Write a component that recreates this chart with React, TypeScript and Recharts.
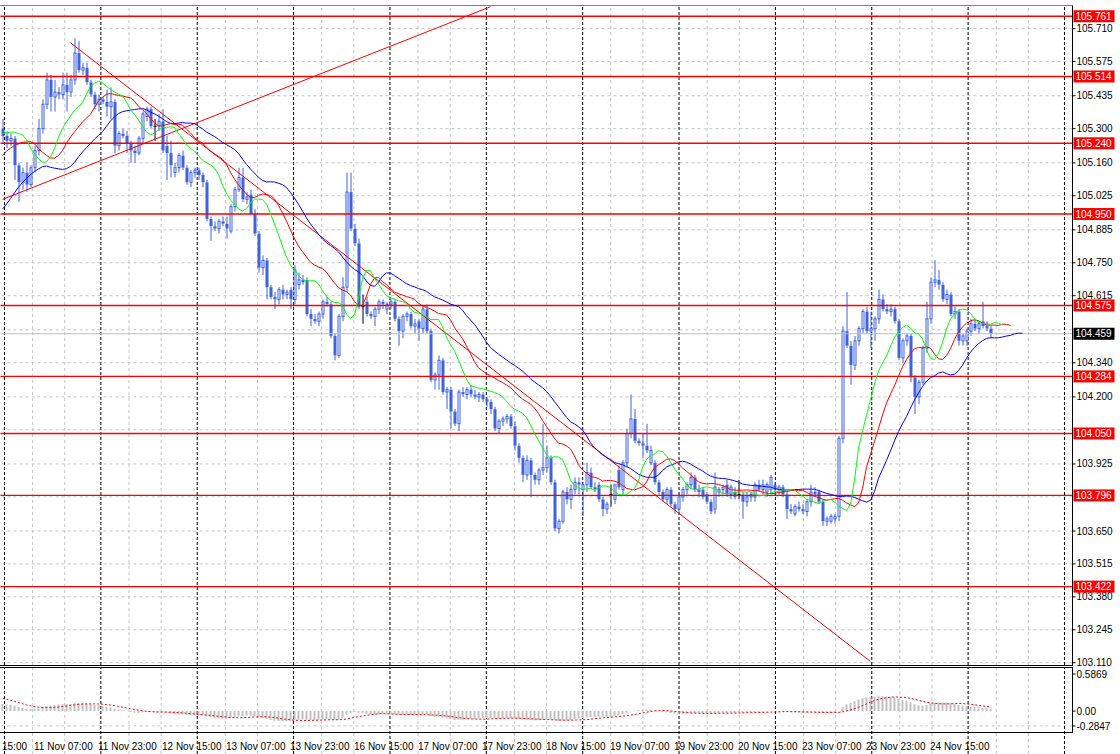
import React from 'react'
import { ComposedChart, Bar, Line, XAxis, YAxis, ReferenceLine } from 'recharts'

// hourly candles, 10 Nov 23:00 .. 25 Nov 06:00  [open, high, low, close]
const ohlc: [number, number, number, number][] = [
  [105.30, 105.34, 105.24, 105.27], [105.27, 105.29, 105.22, 105.25], [105.25, 105.28, 105.23, 105.26], [105.26, 105.27, 105.09, 105.15],
  [105.15, 105.16, 105.00, 105.08], [105.08, 105.14, 105.05, 105.12], [105.12, 105.16, 105.04, 105.07], [105.07, 105.15, 105.06, 105.14],
  [105.14, 105.23, 105.12, 105.21], [105.21, 105.34, 105.19, 105.30], [105.30, 105.42, 105.28, 105.40], [105.40, 105.53, 105.38, 105.50],
  [105.50, 105.52, 105.37, 105.43], [105.43, 105.50, 105.37, 105.45], [105.45, 105.47, 105.42, 105.44], [105.44, 105.53, 105.42, 105.48],
  [105.48, 105.53, 105.37, 105.45], [105.45, 105.52, 105.43, 105.50], [105.50, 105.67, 105.48, 105.61], [105.61, 105.66, 105.53, 105.54],
  [105.54, 105.57, 105.52, 105.55], [105.55, 105.57, 105.48, 105.49], [105.49, 105.50, 105.43, 105.44], [105.44, 105.45, 105.38, 105.40],
  [105.40, 105.44, 105.37, 105.42], [105.42, 105.43, 105.40, 105.41], [105.41, 105.46, 105.35, 105.39], [105.39, 105.47, 105.34, 105.41],
  [105.41, 105.42, 105.20, 105.23], [105.23, 105.29, 105.21, 105.28], [105.28, 105.30, 105.26, 105.27], [105.27, 105.29, 105.20, 105.24],
  [105.24, 105.25, 105.16, 105.21], [105.21, 105.23, 105.16, 105.20], [105.20, 105.27, 105.19, 105.26], [105.26, 105.37, 105.24, 105.36],
  [105.35, 105.39, 105.33, 105.38], [105.38, 105.39, 105.30, 105.31], [105.31, 105.34, 105.25, 105.31], [105.31, 105.36, 105.29, 105.33],
  [105.33, 105.38, 105.20, 105.21], [105.23, 105.27, 105.09, 105.20], [105.20, 105.25, 105.10, 105.15], [105.12, 105.16, 105.10, 105.14],
  [105.14, 105.20, 105.12, 105.19], [105.19, 105.21, 105.13, 105.14], [105.14, 105.15, 105.07, 105.08], [105.08, 105.13, 105.06, 105.12],
  [105.12, 105.14, 105.10, 105.13], [105.13, 105.14, 105.09, 105.11], [105.11, 105.12, 105.06, 105.08], [105.08, 105.09, 104.92, 104.93],
  [104.93, 104.94, 104.84, 104.90], [104.90, 104.92, 104.88, 104.89], [104.89, 104.93, 104.87, 104.92], [104.92, 104.94, 104.90, 104.91],
  [104.91, 104.94, 104.85, 104.89], [104.88, 104.99, 104.87, 104.98], [104.98, 105.06, 104.96, 105.05], [105.05, 105.14, 105.04, 105.10],
  [105.10, 105.14, 105.00, 105.01], [105.01, 105.04, 104.99, 105.02], [105.03, 105.05, 104.95, 104.95], [104.95, 104.97, 104.86, 104.87],
  [104.87, 104.88, 104.71, 104.73], [104.73, 104.78, 104.70, 104.76], [104.76, 104.77, 104.60, 104.65], [104.65, 104.66, 104.60, 104.61],
  [104.61, 104.63, 104.56, 104.60], [104.60, 104.65, 104.58, 104.64], [104.64, 104.66, 104.60, 104.62], [104.62, 104.64, 104.60, 104.63],
  [104.64, 104.65, 104.56, 104.60], [104.60, 104.74, 104.58, 104.72], [104.66, 104.71, 104.64, 104.68], [104.68, 104.70, 104.66, 104.67],
  [104.68, 104.69, 104.53, 104.54], [104.54, 104.56, 104.49, 104.52], [104.52, 104.54, 104.50, 104.51], [104.51, 104.55, 104.49, 104.54],
  [104.54, 104.60, 104.52, 104.59], [104.59, 104.61, 104.57, 104.58], [104.58, 104.59, 104.44, 104.45], [104.45, 104.46, 104.35, 104.37],
  [104.37, 104.54, 104.36, 104.53], [104.53, 104.69, 104.51, 104.65], [104.65, 105.12, 104.63, 105.04], [105.04, 105.12, 104.88, 104.89],
  [104.89, 104.91, 104.82, 104.83], [104.83, 104.85, 104.56, 104.57], [104.57, 104.62, 104.50, 104.57], [104.59, 104.61, 104.53, 104.54],
  [104.54, 104.55, 104.52, 104.53], [104.53, 104.57, 104.49, 104.56], [104.56, 104.60, 104.54, 104.59], [104.59, 104.60, 104.56, 104.58],
  [104.56, 104.59, 104.54, 104.58], [104.58, 104.60, 104.56, 104.59], [104.59, 104.60, 104.51, 104.52], [104.52, 104.53, 104.41, 104.47],
  [104.47, 104.54, 104.44, 104.53], [104.53, 104.55, 104.51, 104.54], [104.54, 104.55, 104.48, 104.49], [104.49, 104.52, 104.46, 104.50],
  [104.51, 104.52, 104.43, 104.48], [104.48, 104.57, 104.46, 104.56], [104.56, 104.58, 104.46, 104.47], [104.47, 104.48, 104.26, 104.27],
  [104.27, 104.30, 104.23, 104.29], [104.29, 104.37, 104.23, 104.35], [104.35, 104.36, 104.21, 104.22], [104.22, 104.24, 104.15, 104.23],
  [104.23, 104.24, 104.07, 104.14], [104.14, 104.15, 104.08, 104.09], [104.09, 104.23, 104.06, 104.22], [104.22, 104.24, 104.20, 104.21],
  [104.21, 104.24, 104.19, 104.23], [104.23, 104.25, 104.20, 104.21], [104.21, 104.23, 104.19, 104.20], [104.20, 104.22, 104.18, 104.21],
  [104.21, 104.22, 104.18, 104.19], [104.19, 104.20, 104.16, 104.18], [104.18, 104.19, 104.13, 104.15], [104.15, 104.16, 104.06, 104.07],
  [104.07, 104.11, 104.05, 104.10], [104.10, 104.12, 104.08, 104.11], [104.11, 104.13, 104.09, 104.12], [104.12, 104.13, 104.07, 104.08],
  [104.08, 104.10, 103.98, 104.00], [104.00, 104.01, 103.93, 103.95], [103.95, 103.96, 103.85, 103.88], [103.88, 103.96, 103.86, 103.94],
  [103.94, 103.95, 103.79, 103.88], [103.88, 103.89, 103.84, 103.86], [103.86, 103.91, 103.84, 103.90], [103.90, 104.09, 103.88, 103.91],
  [103.91, 104.00, 103.89, 103.95], [103.95, 103.96, 103.84, 103.85], [103.85, 103.86, 103.65, 103.66], [103.66, 103.70, 103.64, 103.69],
  [103.69, 103.82, 103.68, 103.81], [103.81, 103.83, 103.76, 103.78], [103.78, 103.84, 103.74, 103.82], [103.82, 103.87, 103.80, 103.85],
  [103.85, 103.87, 103.80, 103.84], [103.82, 103.85, 103.71, 103.84], [103.84, 103.93, 103.81, 103.89], [103.89, 103.91, 103.82, 103.83],
  [103.83, 103.85, 103.81, 103.82], [103.84, 103.85, 103.77, 103.78], [103.78, 103.79, 103.71, 103.74], [103.74, 103.77, 103.72, 103.76],
  [103.80, 103.84, 103.75, 103.80], [103.78, 103.84, 103.76, 103.84], [103.90, 103.92, 103.82, 103.83], [103.82, 103.94, 103.80, 103.93],
  [103.93, 104.07, 103.91, 104.05], [104.05, 104.21, 104.03, 104.11], [104.11, 104.15, 104.01, 104.02], [104.02, 104.03, 104.00, 104.01],
  [104.01, 104.05, 103.95, 104.00], [104.00, 104.09, 103.97, 103.98], [103.93, 104.00, 103.92, 103.98], [103.93, 103.94, 103.84, 103.85],
  [103.85, 103.86, 103.80, 103.81], [103.81, 103.82, 103.77, 103.78], [103.78, 103.83, 103.76, 103.82], [103.82, 103.83, 103.75, 103.76],
  [103.76, 103.77, 103.72, 103.74], [103.74, 103.81, 103.72, 103.79], [103.79, 103.83, 103.77, 103.82], [103.82, 103.85, 103.80, 103.84],
  [103.84, 103.89, 103.82, 103.87], [103.87, 103.88, 103.81, 103.82], [103.82, 103.84, 103.79, 103.81], [103.82, 103.83, 103.78, 103.79],
  [103.80, 103.81, 103.76, 103.77], [103.77, 103.78, 103.72, 103.73], [103.74, 103.89, 103.72, 103.83], [103.81, 103.83, 103.79, 103.82],
  [103.82, 103.84, 103.80, 103.83], [103.84, 103.86, 103.79, 103.80], [103.80, 103.84, 103.78, 103.83], [103.81, 103.83, 103.78, 103.79],
  [103.80, 103.86, 103.78, 103.80], [103.80, 103.81, 103.70, 103.77], [103.77, 103.81, 103.75, 103.79], [103.79, 103.81, 103.77, 103.80],
  [103.79, 103.85, 103.77, 103.84], [103.84, 103.86, 103.81, 103.82], [103.82, 103.86, 103.80, 103.84], [103.81, 103.85, 103.79, 103.84],
  [103.82, 103.88, 103.80, 103.87], [103.84, 103.85, 103.80, 103.82], [103.82, 103.84, 103.80, 103.83], [103.83, 103.84, 103.79, 103.80],
  [103.80, 103.81, 103.70, 103.74], [103.74, 103.76, 103.72, 103.73], [103.72, 103.76, 103.71, 103.75], [103.75, 103.77, 103.73, 103.74],
  [103.74, 103.76, 103.72, 103.73], [103.73, 103.78, 103.71, 103.77], [103.77, 103.84, 103.75, 103.81], [103.81, 103.83, 103.79, 103.80],
  [103.81, 103.82, 103.76, 103.77], [103.77, 103.78, 103.67, 103.69], [103.69, 103.71, 103.67, 103.70], [103.69, 103.72, 103.68, 103.71],
  [103.70, 103.72, 103.68, 103.71], [103.71, 104.04, 103.69, 104.03], [104.03, 104.49, 104.01, 104.47], [104.47, 104.63, 104.40, 104.41],
  [104.41, 104.43, 104.25, 104.33], [104.33, 104.45, 104.31, 104.43], [104.43, 104.49, 104.41, 104.48], [104.48, 104.56, 104.46, 104.55],
  [104.55, 104.57, 104.46, 104.47], [104.47, 104.55, 104.40, 104.48], [104.48, 104.53, 104.43, 104.52], [104.52, 104.64, 104.50, 104.60],
  [104.60, 104.62, 104.55, 104.56], [104.56, 104.58, 104.54, 104.55], [104.55, 104.58, 104.53, 104.56], [104.56, 104.57, 104.50, 104.51],
  [104.51, 104.52, 104.35, 104.36], [104.36, 104.44, 104.34, 104.43], [104.43, 104.46, 104.41, 104.45], [104.45, 104.46, 104.26, 104.28],
  [104.28, 104.29, 104.13, 104.20], [104.20, 104.27, 104.17, 104.26], [104.26, 104.41, 104.25, 104.40], [104.40, 104.59, 104.38, 104.52],
  [104.52, 104.69, 104.50, 104.67], [104.67, 104.76, 104.65, 104.68], [104.68, 104.72, 104.64, 104.66], [104.66, 104.67, 104.59, 104.60],
  [104.60, 104.64, 104.58, 104.62], [104.62, 104.63, 104.53, 104.54], [104.54, 104.57, 104.52, 104.55], [104.55, 104.56, 104.41, 104.43],
  [104.43, 104.46, 104.41, 104.45], [104.43, 104.48, 104.41, 104.47], [104.47, 104.52, 104.45, 104.50], [104.50, 104.52, 104.47, 104.48],
  [104.48, 104.51, 104.46, 104.50], [104.51, 104.59, 104.48, 104.49], [104.49, 104.51, 104.47, 104.48], [104.48, 104.49, 104.44, 104.459],
]

// median prices of the 8 hours before the first visible bar (estimated)
const priorMedians = [105.18, 105.24, 105.29, 105.32, 105.33, 105.31, 105.3, 105.29]
// alligator start values as seen at the left edge
const jawSeed = 104.97
const teethSeed = 105.19
const lipsSeed = 105.28
// MACD(12,26,9) state at the left edge
const ema12Seed = 105.22
const ema26Seed = 105.12
const macdPrior = [0.22, 0.22, 0.21, 0.2, 0.19, 0.17, 0.15, 0.13]

const priceTicks = [
  105.71, 105.575, 105.435, 105.3, 105.16, 105.025, 104.885, 104.75, 104.615, 104.475,
  104.34, 104.2, 104.065, 103.925, 103.79, 103.65, 103.515, 103.38, 103.245, 103.11,
]
const levels = [105.761, 105.514, 105.24, 104.95, 104.575, 104.284, 104.05, 103.796, 103.422]
const bidPrice = 104.459
const macdTicks = [0.5869, 0, -0.2847]
const dayStarts = [1, 25, 49, 73, 97, 121, 145, 169, 193, 217, 241, 265]
const timeLabels = [
  { k: -8, label: '10 Nov 15:00' },
  { k: 8, label: '11 Nov 07:00' },
  { k: 24, label: '11 Nov 23:00' },
  { k: 40, label: '12 Nov 15:00' },
  { k: 56, label: '13 Nov 07:00' },
  { k: 72, label: '13 Nov 23:00' },
  { k: 88, label: '16 Nov 15:00' },
  { k: 104, label: '17 Nov 07:00' },
  { k: 120, label: '17 Nov 23:00' },
  { k: 136, label: '18 Nov 15:00' },
  { k: 152, label: '19 Nov 07:00' },
  { k: 168, label: '19 Nov 23:00' },
  { k: 184, label: '20 Nov 15:00' },
  { k: 200, label: '23 Nov 07:00' },
  { k: 216, label: '23 Nov 23:00' },
  { k: 232, label: '24 Nov 15:00' },
]
const trendLines = [
  { from: [0, 105.01], to: [122, 105.8] },
  { from: [17, 105.652], to: [217, 103.115] },
]

const SLOTS = 268
const PRICE_MIN = 103.1006
const PRICE_MAX = 105.803
const BLUE = '#3f63dd'
const GRID = '#c4c4c4'
const FONT = '"Liberation Sans", Arial, sans-serif'

function smma(values: number[], period: number, start: number, seed: number) {
  const out: (number | null)[] = values.map(() => null)
  out[start] = seed
  for (let j = start + 1; j < values.length; j++) {
    out[j] = ((out[j - 1] as number) * (period - 1) + values[j]) / period
  }
  return out
}

const medians = [...priorMedians, ...ohlc.map(([, h, l]) => (h + l) / 2)]
const jawRaw = smma(medians, 13, 0, jawSeed)
const teethRaw = smma(medians, 8, 3, teethSeed)
const lipsRaw = smma(medians, 5, 5, lipsSeed)

const macdMain: number[] = []
let e12 = ema12Seed
let e26 = ema26Seed
ohlc.forEach(([, , , c]) => {
  e12 += (2 / 13) * (c - e12)
  e26 += (2 / 27) * (c - e26)
  macdMain.push(e12 - e26)
})
const macdAll = [...macdPrior, ...macdMain]
const macdSignal = macdMain.map((_, i) => macdAll.slice(i, i + 9).reduce((a, b) => a + b, 0) / 9)

const rows = Array.from({ length: SLOTS }, (_, k) => {
  const b = ohlc[k]
  return {
    k,
    range: b ? [b[2], b[1]] : null,
    o: b ? b[0] : null,
    h: b ? b[1] : null,
    l: b ? b[2] : null,
    c: b ? b[3] : null,
    jaw: jawRaw[k] ?? null,
    teeth: teethRaw[k + 3] ?? null,
    lips: lipsRaw[k + 5] ?? null,
    macd: macdMain[k] ?? null,
    signal: macdSignal[k] ?? null,
  }
})

const gridKeys = rows.map((r) => r.k).filter((k) => k % 8 === 0 && !dayStarts.some((d) => Math.abs(d - k) <= 1))

function Candle(props: any) {
  const { x, y, width, height, payload } = props
  if (!payload || payload.o == null) return null
  const { o, h, l, c } = payload
  const top = Math.min(y, y + height)
  const bottom = Math.max(y, y + height)
  const toY = (v: number) => top + ((h - v) / (h - l)) * (bottom - top)
  const cx = x + width / 2
  const yo = toY(o)
  const yc = toY(c)
  if (o === c) {
    return (
      <g>
        <line x1={cx} x2={cx} y1={top} y2={bottom} stroke="#000" />
        <line x1={cx - 1.5} x2={cx + 1.5} y1={yo} y2={yo} stroke="#000" />
      </g>
    )
  }
  const bTop = Math.min(yo, yc)
  const bBot = Math.max(yo, yc, bTop + 1)
  return (
    <g>
      <line x1={cx} x2={cx} y1={top} y2={bTop} stroke={BLUE} />
      <line x1={cx} x2={cx} y1={bBot} y2={bottom} stroke={BLUE} />
      {c > o ? (
        <rect x={x + 0.5} y={bTop} width={width - 1} height={bBot - bTop} fill="#fff" stroke={BLUE} />
      ) : (
        <rect x={x} y={bTop} width={width} height={bBot - bTop} fill={BLUE} />
      )}
    </g>
  )
}

function PriceTick(props: any) {
  const { x, y, payload } = props
  const v = payload.value as number
  const label = v.toFixed(3)
  if (v === bidPrice || levels.includes(v)) {
    return (
      <g>
        <rect x={x + 1} y={y - 6} width={41} height={12} fill={v === bidPrice ? '#000' : '#ff0000'} />
        <text x={x + 3} y={y + 3.5} fill="#fff" fontSize={10} fontFamily={FONT}>{label}</text>
      </g>
    )
  }
  if ([...levels, bidPrice].some((m) => Math.abs(m - v) < 0.02)) return null
  return (
    <g>
      <line x1={x} x2={x + 3} y1={y} y2={y} stroke="#000" />
      <text x={x + 4} y={y + 3.5} fill="#000" fontSize={10} fontFamily={FONT}>{label}</text>
    </g>
  )
}

function MacdTick(props: any) {
  const { x, y, payload } = props
  const v = payload.value as number
  const dy = v === macdTicks[0] ? 6 : v === macdTicks[2] ? -6 : 0
  const label = v === 0 ? '0.00' : v.toFixed(4)
  return (
    <g>
      <line x1={x} x2={x + 3} y1={y + dy} y2={y + dy} stroke="#000" />
      <text x={x + 4} y={y + dy + 3.5} fill="#000" fontSize={10} fontFamily={FONT}>{label}</text>
    </g>
  )
}

function TimeTick(props: any) {
  const { x, y, payload } = props
  const t = timeLabels.find((tl) => Math.max(tl.k, 0) === payload.value)
  if (!t) return null
  // the label of a bar left of the window only shows its time part at the edge
  const text = t.k < 0 ? t.label.split(' ').pop() : t.label
  return (
    <text x={x - 0.5} y={y + 18} fill="#000" fontSize={10} fontFamily={FONT}>{text}</text>
  )
}

const mainMargin = { top: 6, right: 0, bottom: 15, left: 0.5 }
const lowMargin = { top: 8, right: 0, bottom: 0, left: 0.5 }

export default function App() {
  const vLines = [
    ...gridKeys.map((k) => <ReferenceLine key={'g' + k} x={k} stroke={GRID} strokeDasharray="3 3" />),
    ...dayStarts.map((k) => <ReferenceLine key={'d' + k} x={k} stroke="#000" strokeDasharray="3 2" />),
  ]
  return (
    <div style={{ position: 'absolute', left: 0, top: 0, width: 1120, height: 754, background: '#fff', overflow: 'hidden' }}>
      {/* grid layers */}
      <div style={{ position: 'absolute', left: 0, top: 0 }}>
        <ComposedChart width={1120} height={680} data={rows} margin={mainMargin}>
          <XAxis dataKey="k" type="category" hide />
          <YAxis orientation="right" width={47.5} type="number" domain={[PRICE_MIN, PRICE_MAX]} allowDataOverflow tick={false} axisLine={false} tickLine={false} />
          {priceTicks.map((v) => <ReferenceLine key={'h' + v} y={v} stroke={GRID} strokeDasharray="3 3" />)}
          {vLines}
        </ComposedChart>
      </div>
      <div style={{ position: 'absolute', left: 0, top: 660 }}>
        <ComposedChart width={1120} height={94} data={rows} margin={lowMargin}>
          <XAxis dataKey="k" type="category" hide />
          <YAxis orientation="right" width={47.5} type="number" domain={[macdTicks[2], macdTicks[0]]} allowDataOverflow tick={false} axisLine={false} tickLine={false} />
          <ReferenceLine y={0} stroke={GRID} strokeDasharray="3 3" />
          {vLines}
        </ComposedChart>
      </div>

      {/* MACD panel */}
      <div style={{ position: 'absolute', left: 0, top: 660 }}>
        <ComposedChart width={1120} height={94} data={rows} margin={lowMargin}>
          <XAxis
            dataKey="k"
            type="category"
            height={22}
            ticks={timeLabels.map((t) => Math.max(t.k, 0))}
            interval={0}
            tick={(p: any) => <TimeTick {...p} />}
            tickSize={0}
            tickMargin={0}
            tickLine={false}
            axisLine={false}
          />
          <YAxis
            orientation="right"
            width={47.5}
            type="number"
            domain={[macdTicks[2], macdTicks[0]]}
            allowDataOverflow
            ticks={macdTicks}
            interval={0}
            tick={(p: any) => <MacdTick {...p} />}
            tickSize={0}
            tickMargin={0}
            tickLine={false}
            axisLine={false}
          />
          <Bar dataKey="macd" barSize={2} fill="#c0c0c0" isAnimationActive={false} />
          <Line dataKey="signal" stroke="#ff0000" strokeWidth={1} strokeDasharray="2 2" dot={false} activeDot={false} isAnimationActive={false} />
        </ComposedChart>
      </div>

      {/* price panel */}
      <div style={{ position: 'absolute', left: 0, top: 0 }}>
        <ComposedChart width={1120} height={680} data={rows} margin={mainMargin}>
          <XAxis dataKey="k" type="category" hide />
          <YAxis
            orientation="right"
            width={47.5}
            type="number"
            domain={[PRICE_MIN, PRICE_MAX]}
            allowDataOverflow
            ticks={[...priceTicks, ...levels, bidPrice]}
            interval={0}
            tick={(p: any) => <PriceTick {...p} />}
            tickSize={0}
            tickMargin={0}
            tickLine={false}
            axisLine={false}
          />
          <ReferenceLine y={bidPrice} stroke="#bdbdbd" />
          {levels.map((v) => <ReferenceLine key={'l' + v} y={v} stroke="#ff0000" strokeWidth={1.4} />)}
          {trendLines.map((t, i) => (
            <ReferenceLine
              key={'t' + i}
              segment={[{ x: t.from[0], y: t.from[1] }, { x: t.to[0], y: t.to[1] }]}
              stroke="#ff0000"
              strokeWidth={1}
            />
          ))}
          <Bar dataKey="range" barSize={3} shape={(p: any) => <Candle {...p} />} isAnimationActive={false} />
          <Line dataKey="jaw" stroke="#0000ff" strokeWidth={1} dot={false} activeDot={false} isAnimationActive={false} />
          <Line dataKey="teeth" stroke="#ff0000" strokeWidth={1} dot={false} activeDot={false} isAnimationActive={false} />
          <Line dataKey="lips" stroke="#00ff00" strokeWidth={1} dot={false} activeDot={false} isAnimationActive={false} />
        </ComposedChart>
      </div>

      {/* panel frames */}
      <div style={{ position: 'absolute', left: -1, top: 5, width: 1073, height: 659, borderTop: '1px solid #808080', borderRight: '1px solid #000', borderBottom: '1px solid #000', pointerEvents: 'none' }} />
      <div style={{ position: 'absolute', left: -1, top: 667, width: 1073, height: 64, borderTop: '1px solid #000', borderRight: '1px solid #000', borderBottom: '1px solid #000', pointerEvents: 'none' }} />
    </div>
  )
}
